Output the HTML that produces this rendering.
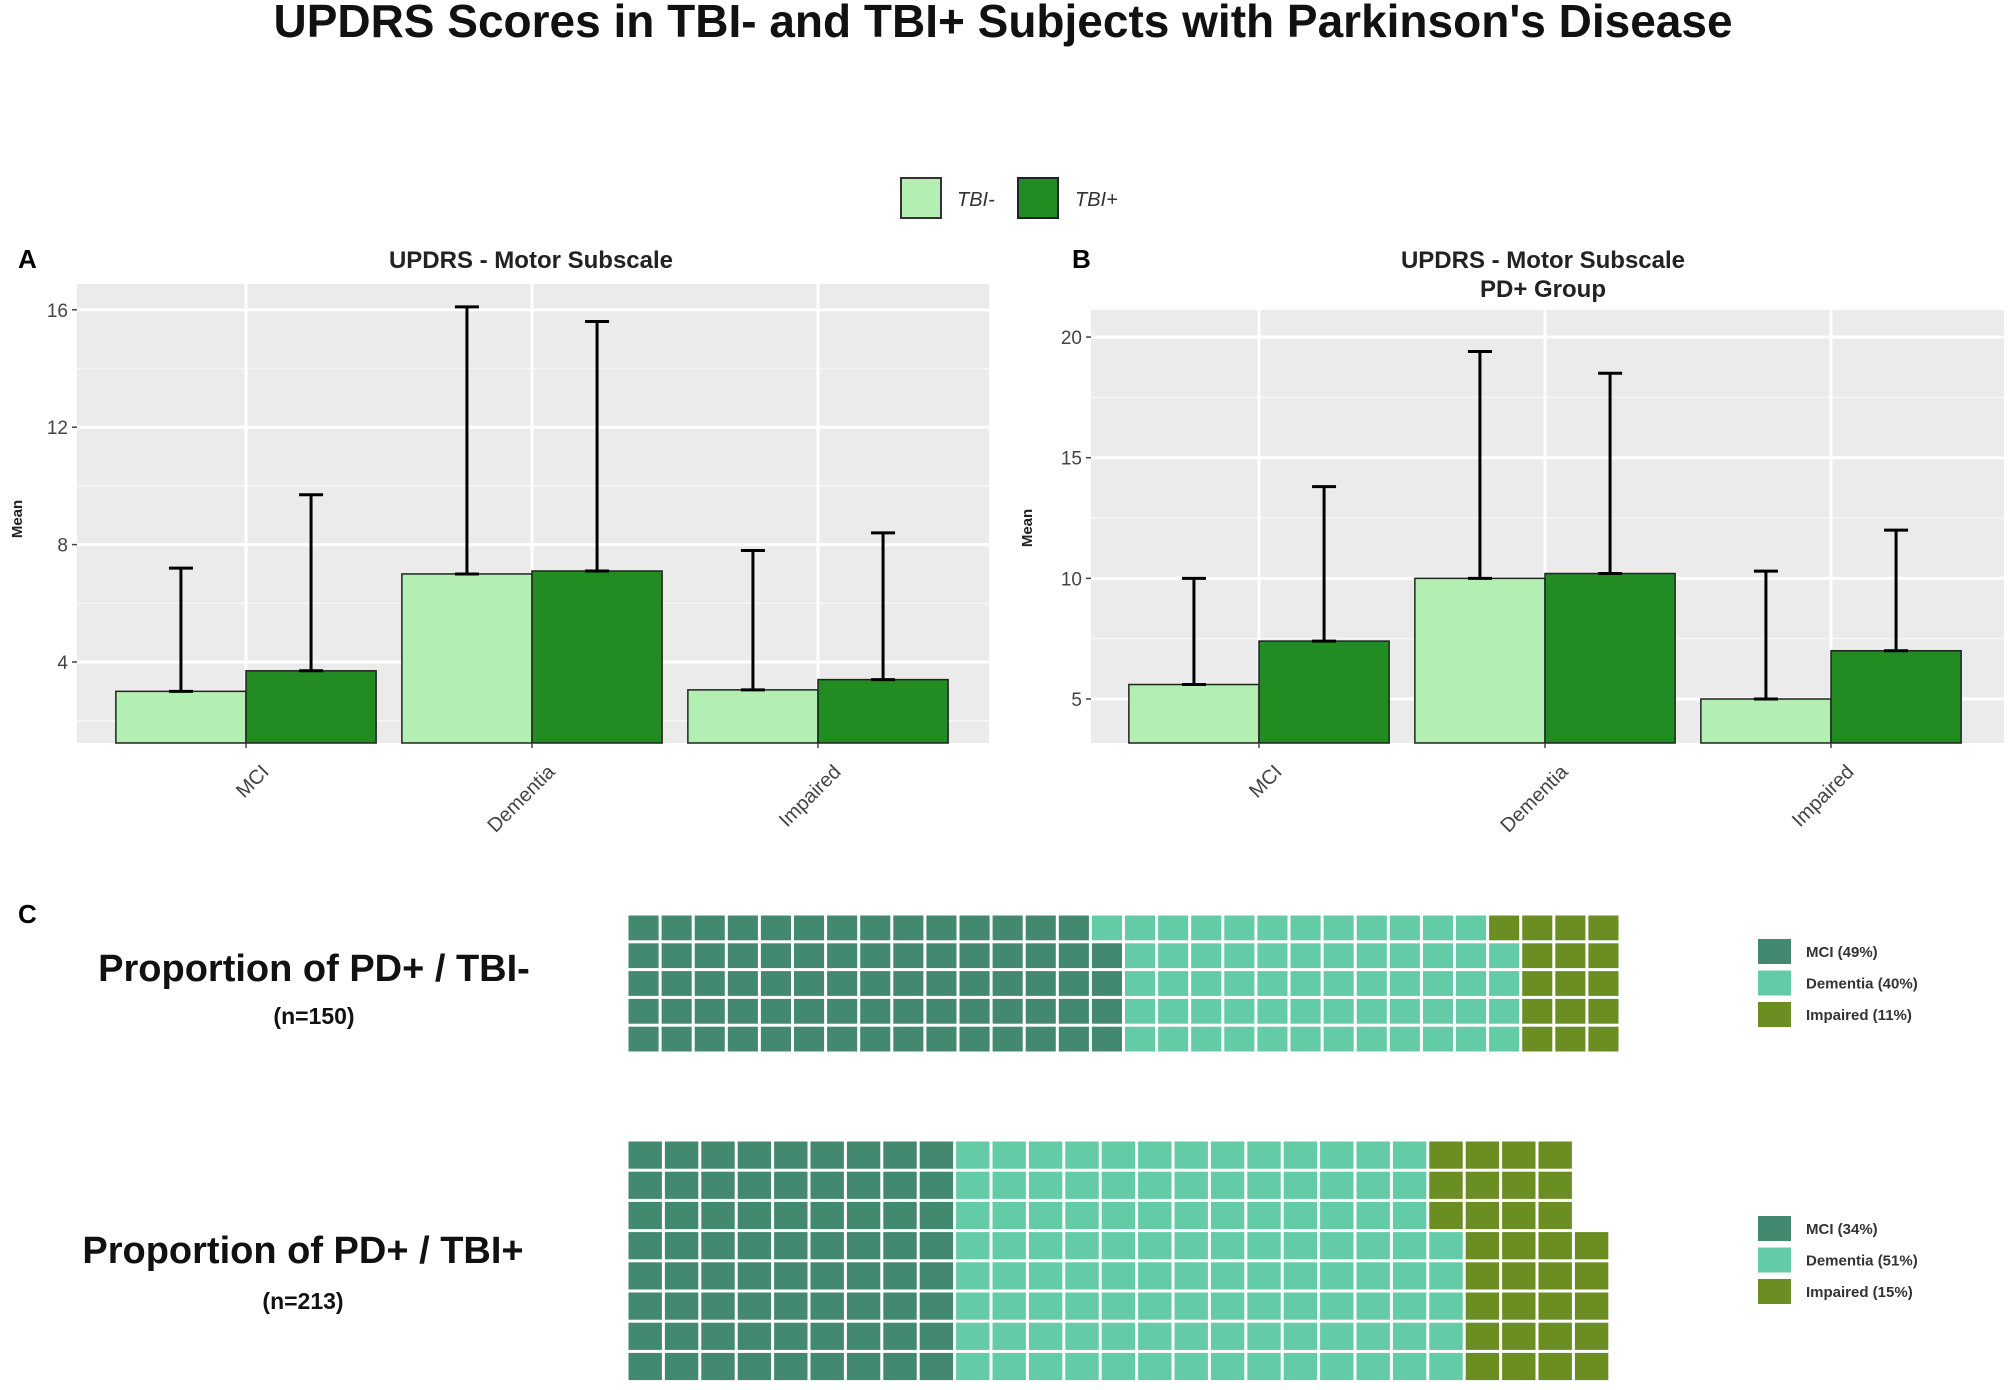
<!DOCTYPE html>
<html><head><meta charset="utf-8">
<style>
html,body{margin:0;padding:0;background:#fff;}
svg{display:block;font-family:"Liberation Sans",Arial,sans-serif;}
</style></head>
<body>
<svg id="fig" width="2008" height="1390" viewBox="0 0 2008 1390">
<text x="1003" y="37" text-anchor="middle" font-size="46" font-weight="bold" fill="#111">UPDRS Scores in TBI- and TBI+ Subjects with Parkinson's Disease</text>
<g>
<rect x="901" y="178" width="40" height="40" fill="#b3eeb3" stroke="#333" stroke-width="2"/>
<text x="957" y="206" font-size="20" font-style="italic" fill="#333">TBI-</text>
<rect x="1018" y="178" width="40" height="40" fill="#228b22" stroke="#222" stroke-width="2"/>
<text x="1075" y="206" font-size="20" font-style="italic" fill="#333">TBI+</text>
</g>
<text x="18" y="268" font-size="26" font-weight="bold">A</text>
<text x="1072" y="268" font-size="26" font-weight="bold">B</text>
<text x="18" y="923" font-size="26" font-weight="bold">C</text>
<text x="531" y="268" text-anchor="middle" font-size="24" font-weight="bold" fill="#222">UPDRS - Motor Subscale</text>
<text x="1543" y="268" text-anchor="middle" font-size="24" font-weight="bold" fill="#222">UPDRS - Motor Subscale</text>
<text x="1543" y="297" text-anchor="middle" font-size="24" font-weight="bold" fill="#222">PD+ Group</text>
<text transform="translate(22,519) rotate(-90)" text-anchor="middle" font-size="15" font-weight="bold" fill="#222">Mean</text>
<text transform="translate(1032,528) rotate(-90)" text-anchor="middle" font-size="15" font-weight="bold" fill="#222">Mean</text>
<text x="314" y="981" text-anchor="middle" font-size="38" font-weight="bold" fill="#111">Proportion of PD+ / TBI-</text>
<text x="314" y="1024" text-anchor="middle" font-size="23" font-weight="bold" fill="#111">(n=150)</text>
<text x="303" y="1263" text-anchor="middle" font-size="38" font-weight="bold" fill="#111">Proportion of PD+ / TBI+</text>
<text x="303" y="1309" text-anchor="middle" font-size="23" font-weight="bold" fill="#111">(n=213)</text>
<g id="charts"></g>
</svg>
<script>
const categories = ["MCI","Dementia","Impaired"];
const aTbiMinus = [3.0, 7.0, 3.05];
const aTbiMinusUpper = [7.2, 16.1, 7.8];
const aTbiPlus = [3.7, 7.1, 3.4];
const aTbiPlusUpper = [9.7, 15.6, 8.4];
const aTicks = [4, 8, 12, 16];
const bTbiMinus = [5.6, 10.0, 5.0];
const bTbiMinusUpper = [10.0, 19.4, 10.3];
const bTbiPlus = [7.4, 10.2, 7.0];
const bTbiPlusUpper = [13.8, 18.5, 12.0];
const bTicks = [5, 10, 15, 20];
const waffleGroups = ["MCI","Dementia","Impaired"];
const waffle1Counts = [74, 60, 16];
const waffle1Pct = ["49%","40%","11%"];
const waffle2Counts = [72, 109, 32];
const waffle2Pct = ["34%","51%","15%"];

const NS = "http://www.w3.org/2000/svg";
const root = document.getElementById("charts");
function mk(tag, attrs, parent){
  const e = document.createElementNS(NS, tag);
  for (const k in attrs) e.setAttribute(k, attrs[k]);
  (parent||root).appendChild(e);
  return e;
}

function barPanel(cfg, key){
  const g = mk("g", {});
  
  
  const L=cfg.left, R=cfg.right, T=cfg.top, B=cfg.bottom;
  const y = v => cfg.y0px - (v - cfg.v0) * cfg.ppu;
  const xc = i => cfg.firstCenter + i * cfg.spacing;
  const bg = mk("rect", {x:L, y:T, width:R-L, height:B-T, fill:"#ebebeb"}, g);
  
  
  for (let i=0;i<cfg.ticks.length;i++){
    const t = cfg.ticks[i];
    const step = cfg.ticks[1]-cfg.ticks[0];
    [t - step/2, t + (i==cfg.ticks.length-1? step/2 : 1e9)].forEach(m=>{
      const py = y(m);
      if (py>T && py<B) mk("line",{x1:L,x2:R,y1:py,y2:py,stroke:"#f6f6f6","stroke-width":1.5},g);
    });
  }
  cfg.ticks.forEach(t=>{
    const py = y(t);
    const gl = mk("line",{x1:L,x2:R,y1:py,y2:py,stroke:"#fff","stroke-width":3},g);
    
    
    mk("line",{x1:L-5,x2:L,y1:py,y2:py,stroke:"#444","stroke-width":1.5},g);
    const tl = mk("text",{x:L-9,y:py+7,"text-anchor":"end","font-size":19,fill:"#444"},g);
    tl.textContent = t;
    
    
  });
  categories.forEach((c,i)=>{
    const cx = xc(i);
    mk("line",{x1:cx,x2:cx,y1:T,y2:B,stroke:"#fff","stroke-width":3},g);
  });
  categories.forEach((c,i)=>{
    const cx = xc(i);
    const w = cfg.spacing*0.455;
    [[cfg.minus[i],cfg.minusUp[i],"#b3eeb3",cx-w,"tbi-minus"],[cfg.plus[i],cfg.plusUp[i],"#228b22",cx,"tbi-plus"]].forEach(s=>{
      const top = y(s[0]);
      const r = mk("rect",{x:s[3],y:top,width:w,height:B-top,fill:s[2],stroke:"#222","stroke-width":1.5},g);
      
      
      const mx = s[3]+w/2, ut = y(s[1]);
      const eb = mk("path",{d:`M${mx},${top} V${ut} M${mx-12},${ut} H${mx+12} M${mx-12},${top} H${mx+12}`,stroke:"#000","stroke-width":3,fill:"none"},g);
      
      
    });
    mk("line",{x1:cx,x2:cx,y1:B,y2:B+5,stroke:"#444","stroke-width":1.5},g);
    const xl = mk("text",{transform:`translate(${cx+24},${B+30}) rotate(-45)`,"text-anchor":"end","font-size":20,fill:"#444"},g);
    xl.textContent = c;
    
    
  });
}

barPanel({left:77,right:989,top:284,bottom:743,y0px:662,v0:4,ppu:29.35,ticks:aTicks,firstCenter:246,spacing:286,
  minus:aTbiMinus,minusUp:aTbiMinusUpper,plus:aTbiPlus,plusUp:aTbiPlusUpper},"panel-a");
barPanel({left:1091,right:2004,top:310,bottom:743,y0px:699,v0:5,ppu:24.13,ticks:bTicks,firstCenter:1259,spacing:286,
  minus:bTbiMinus,minusUp:bTbiMinusUpper,plus:bTbiPlus,plusUp:bTbiPlusUpper},"panel-b");

const wColors = ["#43896f","#63cba6","#6b8e23"];
function waffle(counts, pct, rows, x0, y0, pw, ph, key, legY){
  const g = mk("g", {});
  
  
  let idx = 0;
  counts.forEach((n,gi)=>{
    for (let k=0;k<n;k++){
      const col = Math.floor(idx/rows), row = rows-1-(idx%rows);
      const r = mk("rect",{x:x0+col*pw+1.5,y:y0+row*ph+1.5,width:pw-3,height:ph-3,fill:wColors[gi]},g);
      
      
      idx++;
    }
  });
  waffleGroups.forEach((nm,gi)=>{
    const ly = legY + gi*31.5;
    const s = mk("rect",{x:1758,y:ly,width:33,height:25,fill:wColors[gi]},g);
    
    
    const t = mk("text",{x:1806,y:ly+18,"font-size":15,"font-weight":"bold",fill:"#333"},g);
    t.textContent = nm + " (" + pct[gi] + ")";
    
    
  });
}
waffle(waffle1Counts, waffle1Pct, 5, 627, 914, 33.1, 27.8, "waffle-tbi-minus", 939);
waffle(waffle2Counts, waffle2Pct, 8, 627, 1140, 36.4, 30.2, "waffle-tbi-plus", 1216);
</script>
</body></html>
